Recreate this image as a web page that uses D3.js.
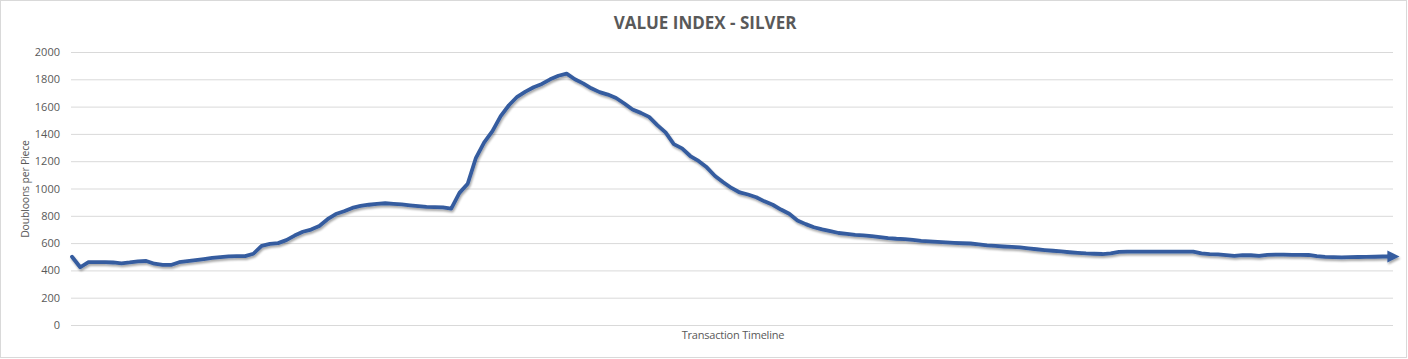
<!DOCTYPE html>
<html><head><meta charset="utf-8">
<script src="https://cdn.jsdelivr.net/npm/d3@7"></script>
<style>
html,body{margin:0;padding:0;background:#fff;}
svg{display:block;font-family:"Open Sans","Liberation Sans",sans-serif;}
</style></head>
<body>
<script>
const title = "VALUE INDEX - SILVER";
const yLabel = "Doubloons per Piece";
const xLabel = "Transaction Timeline";
const yTicks = [0,200,400,600,800,1000,1200,1400,1600,1800,2000];
const silverValues = [
500,423,461,461,460,458,452,458,466,469,
449,441,440,460,468,475,483,491,497,503,
504,505,522,580,594,600,622,655,683,699,
726,775,813,833,858,872,881,888,892,888,
883,877,871,866,864,861,853,968,1035,1225,
1338,1420,1530,1610,1672,1710,1742,1766,1800,1826,
1842,1800,1770,1734,1706,1688,1663,1623,1579,1554,
1525,1464,1411,1325,1294,1238,1202,1155,1092,1046,
1004,971,956,936,906,881,846,815,766,739,
716,700,687,674,667,660,656,651,644,637,
632,629,623,617,613,609,606,602,599,597,
591,584,579,575,572,568,562,555,549,544,
539,533,528,524,522,520,525,535,537,538,
538,538,538,538,538,538,538,524,519,518,
512,506,512,511,506,514,515,515,514,514,
513,504,499,497,496,497,498,499,500,502,
502
];

const W = 1408, H = 359;
const svg = d3.select("body").append("svg").attr("width", W).attr("height", H);

svg.append("rect").attr("x",0.5).attr("y",0.5).attr("width",1406).attr("height",357)
  .attr("fill","#fff").attr("stroke","#d9d9d9").attr("stroke-width",1);

const plot = {left:71, right:1393, top:52, bottom:325};
const x = d3.scaleLinear().domain([0, silverValues.length-1]).range([72, 1391]);
const y = d3.scaleLinear().domain([0, 2000]).range([plot.bottom, plot.top]);

const yAxis = d3.axisLeft(y).tickValues(yTicks).tickSize(-(plot.right-plot.left)).tickPadding(11).tickFormat(d3.format("d"));
const gy = svg.append("g").attr("transform", `translate(${plot.left},0)`).call(yAxis);
gy.select(".domain").remove();
gy.selectAll(".tick line").attr("stroke","#d9d9d9").attr("stroke-width",1);
gy.selectAll(".tick text").attr("fill","#595959").style("font-size","11px")
  .style("font-family","'Open Sans','Liberation Sans',sans-serif");

svg.append("text").attr("x",705).attr("y",29).attr("text-anchor","middle")
  .attr("fill","#595959").style("font-size","17px").style("font-weight","bold").text(title);

svg.append("text").attr("transform","translate(29,189) rotate(-90)").attr("text-anchor","middle")
  .attr("fill","#595959").style("font-size","10.5px").style("letter-spacing","-0.2px").text(yLabel);

svg.append("text").attr("x",733).attr("y",339).attr("text-anchor","middle")
  .attr("fill","#595959").style("font-size","11px").style("letter-spacing","-0.2px").text(xLabel);

const defs = svg.append("defs");
const f = defs.append("filter").attr("id","sh").attr("x","-5%").attr("y","-20%").attr("width","110%").attr("height","140%");
f.append("feGaussianBlur").attr("in","SourceAlpha").attr("stdDeviation",1.2).attr("result","b");
f.append("feOffset").attr("in","b").attr("dx",1).attr("dy",2).attr("result","o");
f.append("feComponentTransfer").attr("in","o").attr("result","o2")
  .append("feFuncA").attr("type","linear").attr("slope",0.35);
const m = f.append("feMerge");
m.append("feMergeNode").attr("in","o2");
m.append("feMergeNode").attr("in","SourceGraphic");

defs.append("marker").attr("id","arrow").attr("viewBox","0 0 10 10").attr("refX",3).attr("refY",5)
  .attr("markerWidth",3.2).attr("markerHeight",3.2).attr("orient","auto").attr("markerUnits","strokeWidth")
  .append("path").attr("d","M0,0 L10,5 L0,10 z").attr("fill","#355c9f");

const line = d3.line().x((d,i)=>x(i)).y(d=>y(d)).curve(d3.curveLinear);
svg.append("path").datum(silverValues).attr("d",line)
  .attr("fill","none").attr("stroke","#355c9f").attr("stroke-width",3.8)
  .attr("stroke-linejoin","round").attr("stroke-linecap","round")
  .attr("marker-end","url(#arrow)").attr("filter","url(#sh)");
</script>
</body></html>
